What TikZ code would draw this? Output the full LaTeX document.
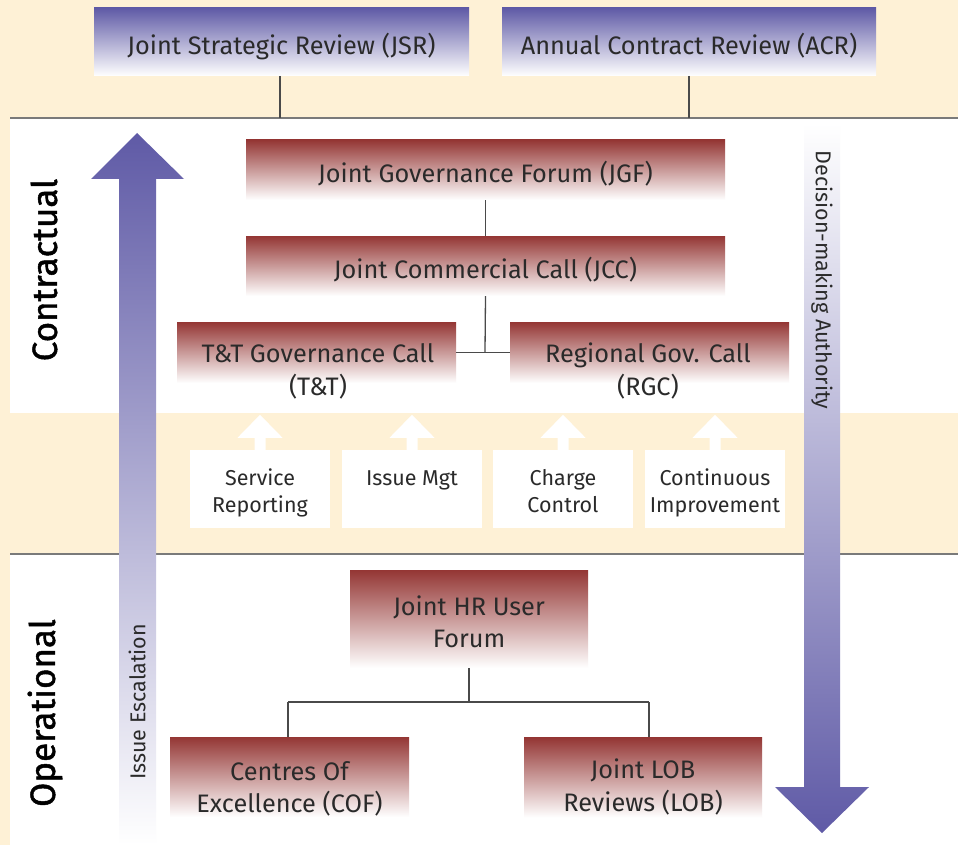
\documentclass[tikz,border=0pt]{standalone}
\usepackage{fontspec}
\setmainfont{Fira Sans}
\newfontfamily\levelfont{Fira Sans}[FakeBold=1.3]
\usetikzlibrary{calc}

\definecolor{cream}{HTML}{FEF1D6}
\definecolor{ink}{HTML}{2A2A2A}
\definecolor{hdpurple}{HTML}{5F5AA6}
\definecolor{hdred}{HTML}{943634}
\definecolor{ruleline}{HTML}{7A7A7A}
\definecolor{linkline}{HTML}{4A4A4A}

\begin{document}
\begin{tikzpicture}[x=1pt,y=-1pt,
  sepline/.style={draw=ruleline,line width=1.6pt},
  link/.style={draw=linkline,line width=1.3pt},
  purplebox/.style={shade,top color=hdpurple,bottom color=white,inner sep=0pt,minimum height=68pt},
  redbox/.style={shade,top color=hdred,bottom color=white,inner sep=0pt},
  whitebox/.style={fill=white,inner sep=0pt,minimum width=140pt,minimum height=78pt},
  bigtext/.style={text=ink,font=\fontsize{25.3}{33}\selectfont,inner sep=0pt},
  smalltext/.style={text=ink,font=\fontsize{21.5}{27}\selectfont,inner sep=0pt},
  arrowtext/.style={text=ink,font=\fontsize{21.5}{25}\selectfont,inner sep=0pt},
  bandtext/.style={text=black,font=\levelfont\fontsize{35}{40}\selectfont,inner sep=0pt}
]
\useasboundingbox (0,0) rectangle (958,845);

% background bands
\fill[cream] (0,0) rectangle (958,845);
\fill[white] (10,118) rectangle (958,413);
\fill[white] (10,554) rectangle (958,845);
\coordinate (topsep) at (10,118);
\coordinate (topsepend) at (958,118);
\coordinate (midsep) at (10,554);
\coordinate (midsepend) at (958,554);
\draw[sepline] (topsep) -- (topsepend);
\draw[sepline] (midsep) -- (midsepend);

% review boxes on top
\node[purplebox,minimum width=375pt] (jsr) at (281.5,42) {};
\node[purplebox,minimum width=374pt] (acr) at (689,42) {};
\node[bigtext,anchor=base] (jsrt) at (281.5,55) {Joint Strategic Review (JSR)};
\node[bigtext,anchor=base] (acrt) at (689,55) {Annual Contract Review (ACR)};
\draw[link] (280,76) -- (topsep -| 280,0);
\draw[link] (689,76) -- (topsep -| 689,0);

% contractual level
\node[redbox,minimum width=479pt,minimum height=60pt] (jgf) at (485.5,170) {};
\node[redbox,minimum width=479pt,minimum height=60pt] (jcc) at (485.5,266) {};
\node[redbox,minimum width=279pt,minimum height=61pt] (tt) at (316.5,352.5) {};
\node[redbox,minimum width=279pt,minimum height=61pt] (rgc) at (649.5,352.5) {};
\node[bigtext,anchor=base] (jgft) at (485.5,183) {Joint Governance Forum (JGF)};
\node[bigtext,anchor=base] (jcct) at (485.5,278) {Joint Commercial Call (JCC)};
\node[bigtext,anchor=base] (ttt1) at (318,362) {T\&T Governance Call};
\node[bigtext,anchor=base] (ttt2) at (318,395) {(T\&T)};
\node[bigtext,anchor=base] (rgct1) at (648,362) {Regional Gov. Call};
\node[bigtext,anchor=base] (rgct2) at (648,395) {(RGC)};
\coordinate (ttjoin) at (485,352);
\draw[link] (jgf.south) -- (jcc.north);
\draw[link] (jcc.south) -- (ttjoin);
\draw[link] (tt.east) -- (rgc.west);

% reporting inputs
\foreach \nm/\cx in {sr/260,im/412,cc/563,ci/715}{
  \node[whitebox] (\nm) at (\cx,489) {};
  \fill[white] (\nm.north) ++(-5.5,0) -- ++(0,-12) -- ++(-17,0) -- ++(22.5,-23)
     -- ++(22.5,23) -- ++(-17,0) -- ++(0,12) -- cycle;
}
\node[smalltext,anchor=base] (srt1) at (sr |- 0,485) {Service};
\node[smalltext,anchor=base] (srt2) at (sr |- 0,512) {Reporting};
\node[smalltext,anchor=base] (imt) at (im |- 0,485) {Issue Mgt};
\node[smalltext,anchor=base] (cct1) at (cc |- 0,485) {Charge};
\node[smalltext,anchor=base] (cct2) at (cc |- 0,512) {Control};
\node[smalltext,anchor=base] (cit1) at (ci |- 0,485) {Continuous};
\node[smalltext,anchor=base] (cit2) at (ci |- 0,512) {Improvement};

% operational level
\node[redbox,minimum width=238pt,minimum height=98pt] (hr) at (469,619) {};
\node[redbox,minimum width=239pt,minimum height=80pt] (cof) at (289.5,777) {};
\node[redbox,minimum width=238pt,minimum height=80pt] (lob) at (643,777.5) {};
\node[bigtext,anchor=base] (hrt1) at (469,615) {Joint HR User};
\node[bigtext,anchor=base] (hrt2) at (469,647) {Forum};
\node[bigtext,anchor=base] (coft1) at (289.5,780) {Centres Of};
\node[bigtext,anchor=base] (coft2) at (289.5,812) {Excellence (COF)};
\node[bigtext,anchor=base] (lobt1) at (643,778) {Joint LOB};
\node[bigtext,anchor=base] (lobt2) at (643,811) {Reviews (LOB)};
\coordinate (hrjoin) at (469,702);
\coordinate (cofturn) at (288,702);
\coordinate (lobturn) at (649,702);
\draw[link] (hr.south) -- (hrjoin);
\draw[link] (cofturn) -- (lobturn);
\draw[link] (cofturn) -- (cofturn |- cof.north);
\draw[link] (lobturn) -- (lobturn |- lob.north);

% escalation and authority arrows
\shade[top color=hdpurple,bottom color=white]
  (119,845) -- (119,179) -- (91,179) -- (137,133) -- (184,179) -- (156,179) -- (156,845) -- cycle;
\shade[top color=white,bottom color=hdpurple]
  (804,123) -- (840,123) -- (840,787) -- (869,787) -- (822,833) -- (775,787) -- (804,787) -- cycle;
\node[arrowtext,rotate=90] (esc) at (137,702) {Issue Escalation};
\node[arrowtext,rotate=-90] (auth) at (822,280) {Decision-making Authority};

% level labels
\node[bandtext,rotate=90] (contr) at (44,270) {Contractual};
\node[bandtext,rotate=90] (oper) at (45,713) {Operational};
\end{tikzpicture}
\end{document}
